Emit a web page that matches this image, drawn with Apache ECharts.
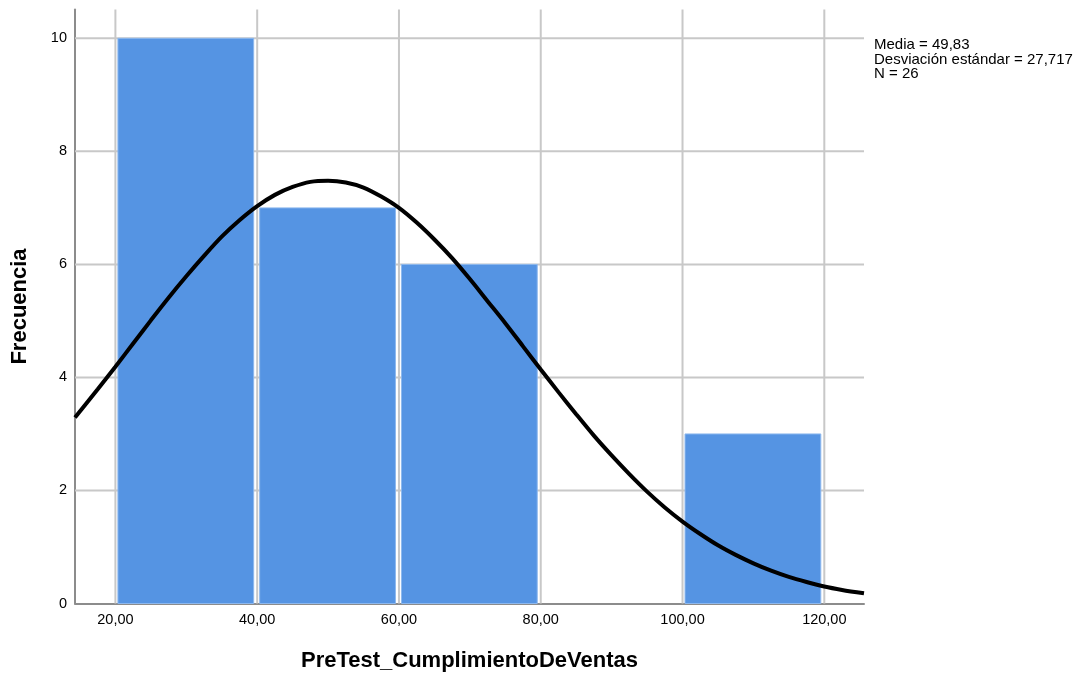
<!DOCTYPE html>
<html>
<head>
<meta charset="utf-8">
<script src="https://cdn.jsdelivr.net/npm/echarts@6/dist/echarts.min.js"></script>
<style>
  html, body { margin: 0; padding: 0; background: #fff; }
  #chart { width: 1080px; height: 678px; }
</style>
</head>
<body>
<div id="chart"></div>
<script>
// Histogram bins: [start, end] and their counts
const binStarts = [20, 40, 60, 80, 100];
const binEnds = [40, 60, 80, 100, 120];
const binCounts = [10, 7, 6, 0, 3];

// Fitted normal curve sampled along the axis (x, expected frequency)
const curveX = [14.3, 17.5, 20, 22.5, 25, 27.5, 30, 32.5, 35, 37.5, 40, 42.5, 45, 47.5, 50, 52.5, 55, 57.5, 60, 62.5, 65, 67.5, 70, 72.5, 75, 77.5, 80, 82.5, 85, 87.5, 90, 92.5, 95, 97.5, 100, 102.5, 105, 107.5, 110, 112.5, 115, 117.5, 120, 122.5, 125.6];
const curveY = [3.29, 3.79, 4.19, 4.60, 5.01, 5.41, 5.79, 6.15, 6.49, 6.78, 7.03, 7.23, 7.37, 7.46, 7.48, 7.45, 7.36, 7.20, 7.00, 6.74, 6.44, 6.11, 5.74, 5.35, 4.96, 4.55, 4.14, 3.74, 3.35, 2.97, 2.62, 2.29, 1.98, 1.70, 1.45, 1.23, 1.03, 0.86, 0.71, 0.58, 0.47, 0.38, 0.30, 0.24, 0.18];

// Axis ticks
const xTicks = [20, 40, 60, 80, 100, 120];
const xTickLabels = ['20,00', '40,00', '60,00', '80,00', '100,00', '120,00'];
const yTicks = [0, 2, 4, 6, 8, 10];

// Summary statistics
const statsLines = ['Media = 49,83', 'Desviación estándar = 27,717', 'N = 26'];

const FONT = '"Liberation Sans", Arial, sans-serif';

const barData = binStarts.map((s, i) => [s, binEnds[i], binCounts[i]]);
const curveData = curveX.map((x, i) => [x, curveY[i]]);

const chart = echarts.init(document.getElementById('chart'), null, { renderer: 'canvas' });

chart.setOption({
  animation: false,
  backgroundColor: '#ffffff',
  grid: { left: 75, right: 216, top: 9.5, bottom: 74.5, containLabel: false, outerBoundsMode: 'none' },
  xAxis: {
    type: 'value',
    min: 14.3,
    max: 125.6,
    name: 'PreTest_CumplimientoDeVentas',
    nameLocation: 'middle',
    nameGap: 46,
    nameMoveOverlap: false,
    nameTextStyle: { fontFamily: FONT, fontSize: 22, fontWeight: 'bold', color: '#000' },
    axisLine: { show: true, lineStyle: { color: '#8c8c8c', width: 2 } },
    axisTick: { show: false },
    splitLine: { show: false },
    axisLabel: {
      customValues: xTicks,
      formatter: v => xTickLabels[xTicks.indexOf(v)] ?? '',
      fontFamily: FONT, fontSize: 14.5, color: '#000', margin: 9
    }
  },
  yAxis: {
    type: 'value',
    min: 0,
    max: 10.51,
    name: 'Frecuencia',
    nameLocation: 'middle',
    nameGap: 44,
    nameMoveOverlap: false,
    nameTextStyle: { fontFamily: FONT, fontSize: 22, fontWeight: 'bold', color: '#000' },
    axisLine: { show: true, lineStyle: { color: '#8c8c8c', width: 2 } },
    axisTick: { show: false },
    splitLine: { show: false },
    axisLabel: {
      customValues: yTicks,
      formatter: v => String(v),
      fontFamily: FONT, fontSize: 14.5, color: '#000', margin: 8
    }
  },
  series: [
    {
      // grid lines at tick positions
      type: 'custom',
      silent: true,
      z: 1,
      renderItem: function (params, api) {
        const cs = params.coordSys;
        const children = [];
        xTicks.forEach(t => {
          const p = api.coord([t, 0]);
          children.push({ type: 'line', shape: { x1: p[0], y1: cs.y, x2: p[0], y2: cs.y + cs.height }, style: { stroke: '#c8c8c8', lineWidth: 2 } });
        });
        yTicks.slice(1).forEach(t => {
          const p = api.coord([0, t]);
          children.push({ type: 'line', shape: { x1: cs.x, y1: p[1], x2: cs.x + cs.width, y2: p[1] }, style: { stroke: '#c8c8c8', lineWidth: 2 } });
        });
        return { type: 'group', children };
      },
      data: [[0, 0]]
    },
    {
      type: 'custom',
      z: 2,
      renderItem: function (params, api) {
        const p0 = api.coord([api.value(0), 0]);
        const p1 = api.coord([api.value(1), api.value(2)]);
        const h = p0[1] - p1[1];
        if (h <= 0) return null;
        return {
          type: 'rect',
          shape: { x: p0[0] + 2.5, y: p1[1], width: p1[0] - p0[0] - 6, height: h },
          style: { fill: '#5594e3', stroke: '#8db8ee', lineWidth: 1 }
        };
      },
      encode: { x: [0, 1], y: 2 },
      data: barData
    },
    {
      type: 'line',
      z: 3,
      data: curveData,
      smooth: 0.3,
      showSymbol: false,
      symbol: 'none',
      lineStyle: { color: '#000', width: 4 },
      clip: true
    }
  ],
  graphic: [
    {
      type: 'text',
      left: 874,
      top: 37.5,
      style: {
        text: statsLines.join('\n'),
        fontFamily: FONT,
        fontSize: 15,
        lineHeight: 14.5,
        fill: '#000'
      }
    }
  ]
});
</script>
</body>
</html>
